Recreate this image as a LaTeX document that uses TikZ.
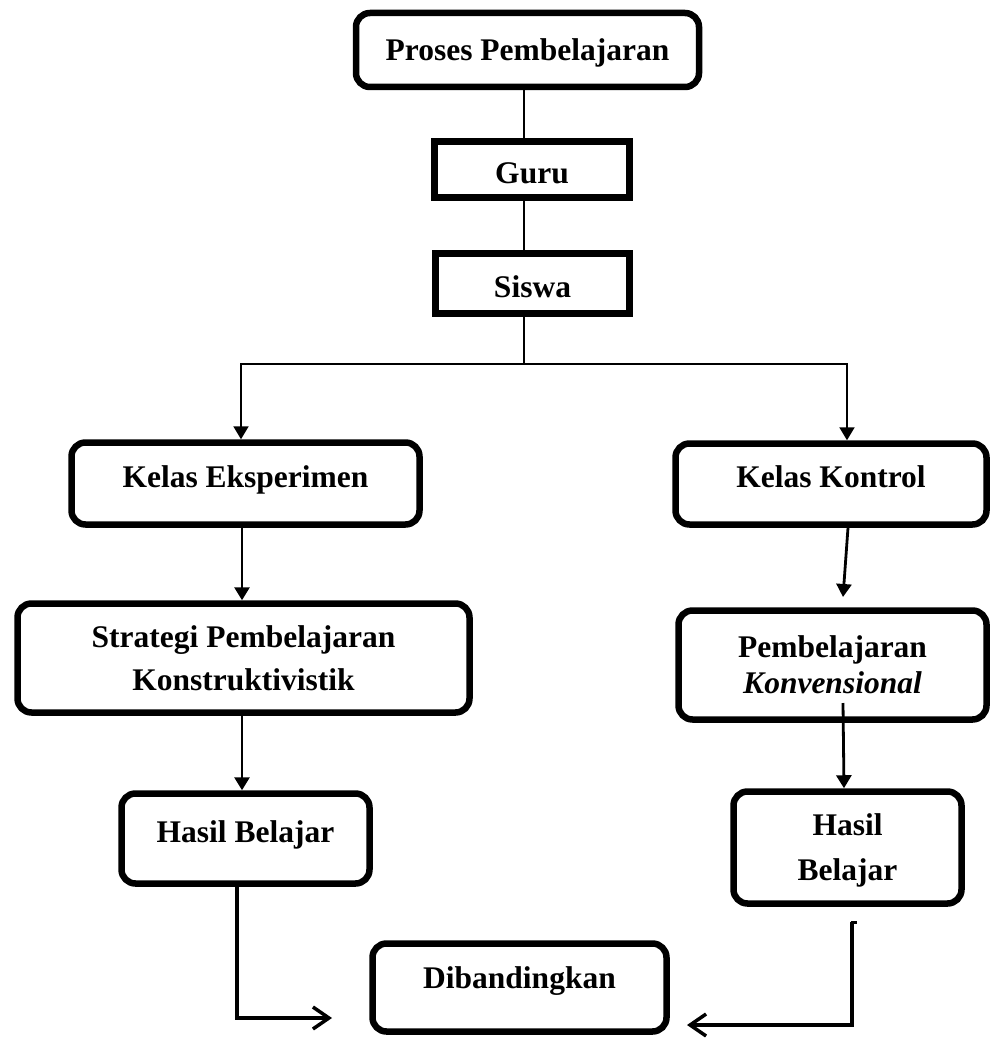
\documentclass[tikz,border=0pt]{standalone}
\usepackage{fontspec}
\setmainfont{Liberation Serif}
\usetikzlibrary{arrows.meta,calc}
\newcommand\tx[2]{\raisebox{#1}[0pt][0pt]{#2}}
\begin{document}
\begin{tikzpicture}[x=1pt,y=-1pt,
  box/.style={draw, line width=6.5pt, rounded corners=14pt, inner sep=0pt, align=center,
              font=\bfseries\fontsize{31.5}{38}\selectfont},
  sq/.style={box, sharp corners},
  thinline/.style={line width=1.8pt},
  arr/.style={line width=2pt, -{Triangle[width=15pt,length=13pt]}},
  arrb/.style={line width=2.8pt, -{Triangle[width=15pt,length=13pt]}},
  barb/.style={line width=3.5pt, -{Straight Barb[length=16pt,width=22pt,line width=3.5pt]}}
]
\useasboundingbox (0,0) rectangle (992,1038);

% boxes
\node[box, minimum width=343pt, minimum height=74pt] (proses) at (527.5,50) {\tx{-10.5pt}{Proses Pembelajaran}};
\node[sq, minimum width=195pt, minimum height=56pt] (guru) at (532,169.5) {\tx{-14pt}{Guru}};
\node[sq, minimum width=194pt, minimum height=60pt] (siswa) at (532.5,283.5) {\tx{-14pt}{Siswa}};
\node[box, minimum width=348pt, minimum height=82pt] (kelasE) at (245.5,483.5) {\tx{-4pt}{Kelas Eksperimen}};
\node[box, minimum width=311pt, minimum height=81pt] (kelasK) at (831,484) {\tx{-3.5pt}{Kelas Kontrol}};
\node[box, minimum width=452pt, minimum height=109pt] (strategi) at (243.5,658) {Strategi Pembelajaran\\[5pt]Konstruktivistik};
\node[box, minimum width=308pt, minimum height=109pt] (pemb) at (832.5,665) {Pembelajaran\\[-2pt]\textit{Konvensional}};
\node[box, minimum width=248pt, minimum height=90pt] (hasilL) at (245.5,838.5) {\tx{-4pt}{Hasil Belajar}};
\node[box, minimum width=228pt, minimum height=112pt] (hasilR) at (847.5,847.5) {Hasil\\[7pt]\raisebox{0pt}[\height][0pt]{Belajar}};
\node[box, minimum width=294pt, minimum height=88pt] (dib) at (519.5,987.5) {\tx{-1pt}{Dibandingkan}};

% helper coordinates
\coordinate (cx) at (524,0);
\coordinate (split) at (524,364);
\coordinate (lx) at (241,0);
\coordinate (rx) at (847,0);
\coordinate (ex) at (242,0);
\coordinate (kk) at (848,0);
\coordinate (ktip) at (843,597);
\coordinate (ps) at (843,703);
\coordinate (ptip) at (844,0);
\coordinate (lb) at (237,0);
\coordinate (dibL) at (332,1018);
\coordinate (rb) at (852,922);
\coordinate (dibR) at (687,1025);

% connectors
\draw[thinline] (proses.south -| cx) -- (guru.north -| cx);
\draw[thinline] (guru.south -| cx) -- (siswa.north -| cx);
\draw[thinline] (siswa.south -| cx) -- (split);
\draw[arr] (split) -| (kelasE.north -| lx);
\draw[arr] (split) -| (kelasK.north -| rx);
\draw[arrb] (kelasE.south -| ex) -- (strategi.north -| ex);
\draw[arrb] (kelasK.south -| kk) -- (ktip);
\draw[arrb] (ps) -- (hasilR.north -| ptip);
\draw[arrb] (strategi.south -| ex) -- (hasilL.north -| ex);
\draw[barb] (hasilL.south -| lb) |- (dibL);
\draw[barb] (rb) |- (dibR);
\draw[line width=3pt] ([xshift=-1.5pt]rb) -- ++(6,0);
\end{tikzpicture}
\end{document}
